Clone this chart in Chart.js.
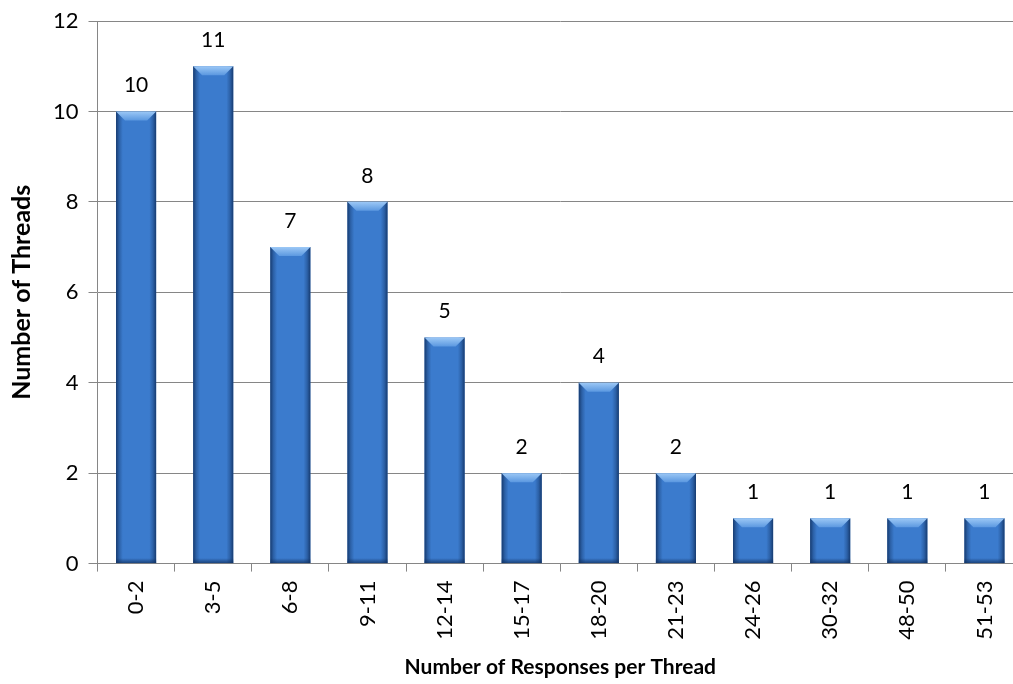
<!DOCTYPE html>
<html>
<head>
<meta charset="utf-8">
<script src="https://cdn.jsdelivr.net/npm/chart.js@4/dist/chart.umd.min.js"></script>
<style>
  html, body { margin: 0; padding: 0; background: #fff; }
  #wrap { width: 1013px; height: 684px; overflow: hidden; position: relative; }
  #box { width: 1040px; height: 684px; position: absolute; left: 0; top: 0; }
</style>
</head>
<body>
<div id="wrap"><div id="box"><canvas id="c"></canvas></div></div>
<script>
// Response-count buckets and how many threads fall in each
const categories = ['0-2', '3-5', '6-8', '9-11', '12-14', '15-17', '18-20', '21-23', '24-26', '30-32', '48-50', '51-53'];
const threadCounts = [10, 11, 7, 8, 5, 2, 4, 2, 1, 1, 1, 1];
const yTicks = [0, 2, 4, 6, 8, 10, 12];

const FONT = 'Lato, "Open Sans", sans-serif';
const AXIS_GREY = '#868686';
const BAR_BLUE = '#3b7bcd';

// Shading drawn over each bar: dark side rims, slanted light bevel on top,
// darker strip at the base
const bevelPlugin = {
  id: 'bevel',
  afterDatasetsDraw(chart) {
    const ctx = chart.ctx;
    const meta = chart.getDatasetMeta(0);
    meta.data.forEach(bar => {
      const l = bar.x - bar.width / 2, r = bar.x + bar.width / 2;
      const t = bar.y, b = bar.base;
      if (![l, r, t, b].every(Number.isFinite)) return;
      const w = r - l;
      ctx.save();

      // side rims
      const gs = ctx.createLinearGradient(l, 0, r, 0);
      gs.addColorStop(0, 'rgba(16,48,96,0.85)');
      gs.addColorStop(0.08, 'rgba(16,48,96,0.35)');
      gs.addColorStop(0.17, 'rgba(16,48,96,0)');
      gs.addColorStop(0.83, 'rgba(16,48,96,0)');
      gs.addColorStop(0.92, 'rgba(16,48,96,0.35)');
      gs.addColorStop(1, 'rgba(16,48,96,0.85)');
      ctx.fillStyle = gs;
      ctx.fillRect(l, t, w, b - t);

      // base strip
      const gb = ctx.createLinearGradient(0, b - 5, 0, b);
      gb.addColorStop(0, 'rgba(16,48,96,0)');
      gb.addColorStop(1, 'rgba(16,48,96,0.75)');
      ctx.fillStyle = gb;
      ctx.fillRect(l, b - 5, w, 5);

      // top bevel
      const d = Math.min(9, (b - t) / 2);
      const gt = ctx.createLinearGradient(0, t, 0, t + d);
      gt.addColorStop(0, '#9cc8f6');
      gt.addColorStop(1, '#5b98e0');
      ctx.fillStyle = gt;
      ctx.beginPath();
      ctx.moveTo(l, t);
      ctx.lineTo(r, t);
      ctx.lineTo(r - d, t + d);
      ctx.lineTo(l + d, t + d);
      ctx.closePath();
      ctx.fill();
      ctx.restore();
    });
  }
};

// Value printed above every bar
const valueLabels = {
  id: 'valueLabels',
  afterDatasetsDraw(chart) {
    const ctx = chart.ctx;
    const meta = chart.getDatasetMeta(0);
    const data = chart.data.datasets[0].data;
    ctx.save();
    ctx.font = '21px ' + FONT;
    ctx.fillStyle = '#000';
    ctx.textAlign = 'center';
    ctx.textBaseline = 'middle';
    meta.data.forEach((bar, i) => {
      ctx.fillText(String(data[i]), bar.x, bar.y - 26);
    });
    ctx.restore();
  }
};

new Chart(document.getElementById('c'), {
  type: 'bar',
  data: {
    labels: categories,
    datasets: [{
      data: threadCounts,
      backgroundColor: BAR_BLUE,
      borderWidth: 0,
      barPercentage: 0.52,
      categoryPercentage: 1.0
    }]
  },
  options: {
    responsive: true,
    maintainAspectRatio: false,
    animation: false,
    layout: { padding: { left: 4, right: 17, top: 0, bottom: 2 } },
    plugins: {
      legend: { display: false },
      tooltip: { enabled: false }
    },
    scales: {
      x: {
        grid: {
          display: true,
          drawOnChartArea: false,
          drawTicks: true,
          tickLength: 8,
          color: AXIS_GREY,
          offset: true
        },
        border: { display: true, color: AXIS_GREY, width: 1 },
        ticks: {
          color: '#000',
          font: { family: FONT, size: 22 },
          minRotation: 90,
          maxRotation: 90,
          padding: 9,
          autoSkip: false
        },
        title: {
          display: true,
          text: 'Number of Responses per Thread',
          color: '#000',
          font: { family: FONT, size: 21, weight: 'bold' },
          padding: { top: 6, bottom: 2 }
        }
      },
      y: {
        min: 0,
        max: 12,
        afterBuildTicks(scale) { scale.ticks = yTicks.map(v => ({ value: v })); },
        grid: {
          color: AXIS_GREY,
          lineWidth: 1,
          drawTicks: true,
          tickLength: 9
        },
        border: { display: true, color: AXIS_GREY, width: 1 },
        ticks: {
          color: '#000',
          font: { family: FONT, size: 22, lineHeight: 1.0 },
          padding: 10
        },
        title: {
          display: true,
          text: 'Number of Threads',
          color: '#000',
          font: { family: FONT, size: 25, weight: 'bold' },
          padding: { top: 3, bottom: 6 }
        }
      }
    }
  },
  plugins: [bevelPlugin, valueLabels]
});
</script>
</body>
</html>
